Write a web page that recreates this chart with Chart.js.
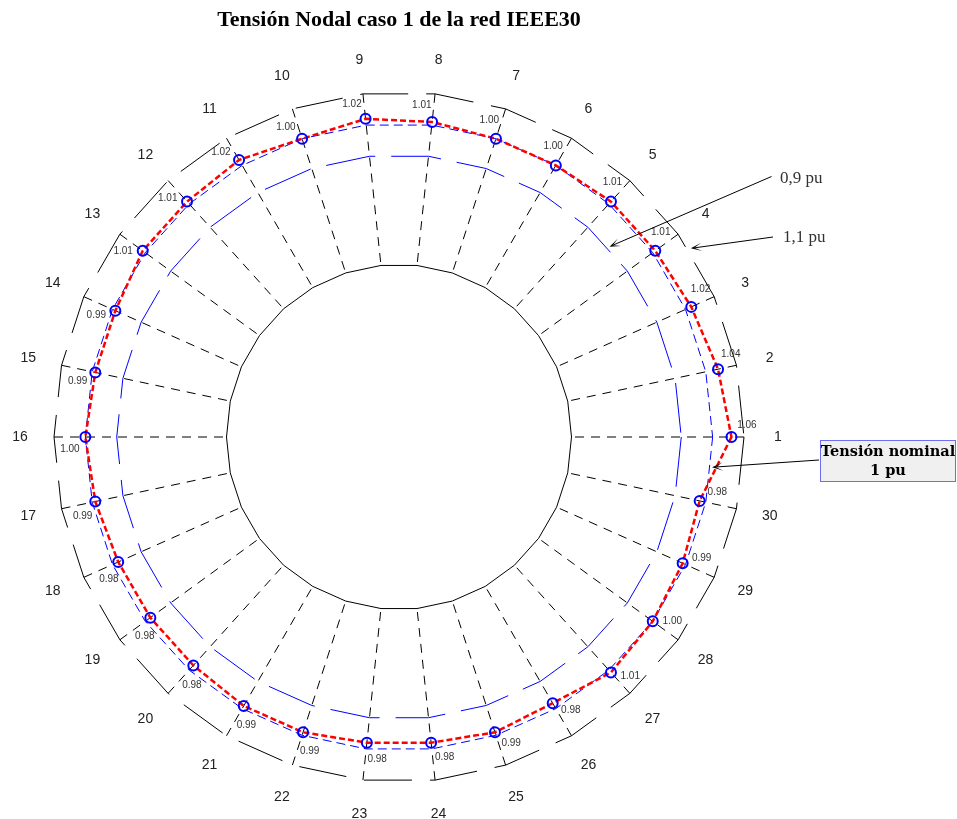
<!DOCTYPE html>
<html>
<head>
<meta charset="utf-8">
<script src="https://cdn.jsdelivr.net/npm/chart.js@4.4.1/dist/chart.umd.min.js"></script>
<style>
  html, body { margin: 0; padding: 0; background: #ffffff; }
  canvas { display: block; }
</style>
</head>
<body>
<canvas id="chart" width="957" height="819"></canvas>
<script>
// Bus numbers of the IEEE 30-bus network
const buses = ['1','2','3','4','5','6','7','8','9','10','11','12','13','14','15',
               '16','17','18','19','20','21','22','23','24','25','26','27','28','29','30'];

// Nodal voltage magnitude (pu), case 1
const voltagePu = [1.06, 1.04, 1.02, 1.01, 1.01, 1.00, 1.00, 1.01, 1.02, 1.00,
                   1.02, 1.01, 1.01, 0.99, 0.99, 1.00, 0.99, 0.98, 0.98, 0.98,
                   0.99, 0.99, 0.98, 0.98, 0.99, 0.98, 1.01, 1.00, 0.99, 0.98];

// Reference rings: lower limit, nominal, upper limit (pu)
const ringLevels = [0.9, 1.0, 1.1];
// Inner boundary of the plotted band (pu)
const innerLevel = 0.55;

const titleText = 'Tensión Nodal caso 1 de la red IEEE30';

// Bus 1 sits at 3 o'clock and buses advance counter-clockwise,
// while the radial scale advances clockwise: walk the buses backwards.
const order = buses.map((_, i) => (buses.length - i) % buses.length);
const radarLabels = order.map(i => buses[i]);
const radarValues = order.map(i => voltagePu[i]);
const radarIndexOfBus = pos => (buses.length - pos) % buses.length; // pos = bus number - 1 (may be fractional)

const ringStyle = [
  { color: '#0000ff', dash: [50, 16] },  // 0.9 pu
  { color: '#0000ff', dash: [9, 5] },    // 1.0 pu
  { color: '#000000', dash: [48, 18] }   // 1.1 pu
];

function ringOpt(ctx, key, fallback) {
  const s = ringStyle[ctx.index - 1];
  return s ? s[key] : fallback;
}

// Fill and outline of the inner band boundary, drawn over the spoke origins
const innerBand = {
  id: 'innerBand',
  beforeDatasetsDraw(chart) {
    const s = chart.scales.r;
    const ctx = chart.ctx;
    const d = s.getDistanceFromCenterForValue(innerLevel);
    const n = radarLabels.length;
    ctx.save();
    ctx.beginPath();
    for (let i = 0; i < n; i++) {
      const p = s.getPointPosition(i, d);
      if (i === 0) ctx.moveTo(p.x, p.y); else ctx.lineTo(p.x, p.y);
    }
    ctx.closePath();
    ctx.fillStyle = '#ffffff';
    ctx.fill();
    ctx.lineWidth = 1;
    ctx.strokeStyle = '#000000';
    ctx.setLineDash([]);
    ctx.stroke();
    ctx.restore();
  }
};

function arrow(ctx, x0, y0, x1, y1) {
  const a = Math.atan2(y1 - y0, x1 - x0);
  const L = 11, W = 4.2, notch = 3.5;
  ctx.beginPath();
  ctx.moveTo(x0, y0);
  ctx.lineTo(x1 - Math.cos(a) * notch, y1 - Math.sin(a) * notch);
  ctx.stroke();
  ctx.beginPath();
  ctx.moveTo(x1, y1);
  ctx.lineTo(x1 - L * Math.cos(a) + W * Math.sin(a), y1 - L * Math.sin(a) - W * Math.cos(a));
  ctx.lineTo(x1 - notch * Math.cos(a), y1 - notch * Math.sin(a));
  ctx.lineTo(x1 - L * Math.cos(a) - W * Math.sin(a), y1 - L * Math.sin(a) + W * Math.cos(a));
  ctx.closePath();
  ctx.fill();
}

// Bus numbers, value tags and ring callouts
const annotations = {
  id: 'annotations',
  afterDatasetsDraw(chart) {
    const s = chart.scales.r;
    const ctx = chart.ctx;
    const outer = s.getDistanceFromCenterForValue(s.max);
    ctx.save();

    // bus numbers around the outer ring
    ctx.font = '14px "Liberation Sans", Arial, sans-serif';
    ctx.fillStyle = '#222222';
    ctx.textAlign = 'center';
    ctx.textBaseline = 'middle';
    radarLabels.forEach((lab, i) => {
      const p = s.getPointPosition(i, outer + 34);
      ctx.fillText(lab, p.x, p.y);
    });

    // value tag beside each marker
    ctx.font = '10px "Liberation Sans", Arial, sans-serif';
    ctx.fillStyle = '#333333';
    const meta = chart.getDatasetMeta(0);
    meta.data.forEach((el, i) => {
      const a = s.getIndexAngle(i) - Math.PI / 2;
      const ca = Math.cos(a), sa = Math.sin(a);
      const x = el.x + 15.5 * ca + 12 * sa;
      const y = el.y + 15.5 * sa - 12 * ca;
      ctx.fillText(radarValues[i].toFixed(2), x, y);
    });

    // callouts
    ctx.strokeStyle = '#000000';
    ctx.fillStyle = '#000000';
    ctx.lineWidth = 1;
    ctx.setLineDash([]);
    const at = (busPos, v) => s.getPointPosition(radarIndexOfBus(busPos), s.getDistanceFromCenterForValue(v));

    const t09 = at(3.51, 0.905);
    arrow(ctx, 771.5, 176.5, t09.x, t09.y);
    const t11 = at(2.74, 1.108);
    arrow(ctx, 773, 237, t11.x, t11.y);
    const t10 = at(-0.46, 1.003);
    arrow(ctx, 819, 460, t10.x, t10.y);

    ctx.font = '17px "Liberation Serif", "Times New Roman", serif';
    ctx.fillStyle = '#333333';
    ctx.textAlign = 'left';
    ctx.fillText('0,9 pu', 780, 179);
    ctx.fillText('1,1 pu', 783, 238);

    // nominal voltage box
    ctx.fillStyle = '#f0f0f0';
    ctx.fillRect(820.5, 440.5, 135, 41);
    ctx.strokeStyle = '#6e6ef0';
    ctx.strokeRect(820.5, 440.5, 135, 41);
    ctx.fillStyle = '#000000';
    ctx.textAlign = 'center';
    ctx.font = 'bold 14.5px "DejaVu Serif", serif';
    ctx.fillText('Tensión nominal', 888, 452);
    ctx.fillText('1 pu', 888, 471);

    ctx.restore();
  }
};

new Chart(document.getElementById('chart'), {
  type: 'radar',
  data: {
    labels: radarLabels,
    datasets: [{
      data: radarValues,
      borderColor: '#ff0000',
      borderWidth: 2.5,
      borderDash: [6, 3],
      fill: false,
      tension: 0,
      pointRadius: 5,
      pointHoverRadius: 5,
      pointBorderWidth: 2,
      pointBorderColor: '#0000ff',
      pointBackgroundColor: 'rgba(0,0,0,0)'
    }]
  },
  options: {
    responsive: false,
    animation: false,
    events: [],
    layout: { padding: { left: 54, right: 213, top: 7, bottom: 37 } },
    plugins: {
      legend: { display: false },
      tooltip: { enabled: false },
      title: {
        display: true,
        text: titleText,
        color: '#000000',
        font: { family: '"Liberation Serif", "Times New Roman", serif', size: 22, weight: 'bold', lineHeight: 1.2 },
        padding: { top: 0, bottom: 58.6 }
      }
    },
    scales: {
      r: {
        min: 0,
        max: 1.1,
        startAngle: 90,
        ticks: { display: false },
        afterBuildTicks(axis) {
          axis.ticks = [{ value: 0 }].concat(ringLevels.map(v => ({ value: v })));
        },
        grid: {
          circular: false,
          lineWidth: 1,
          color: (c) => ringOpt(c, 'color', 'rgba(0,0,0,0)'),
          borderDash: (c) => ringOpt(c, 'dash', [])
        },
        border: {
          dash: (c) => ringOpt(c, 'dash', [])
        },
        angleLines: {
          display: true,
          color: '#000000',
          lineWidth: 1,
          borderDash: [9, 7]
        },
        pointLabels: { display: false }
      }
    }
  },
  plugins: [innerBand, annotations]
});
</script>
</body>
</html>
